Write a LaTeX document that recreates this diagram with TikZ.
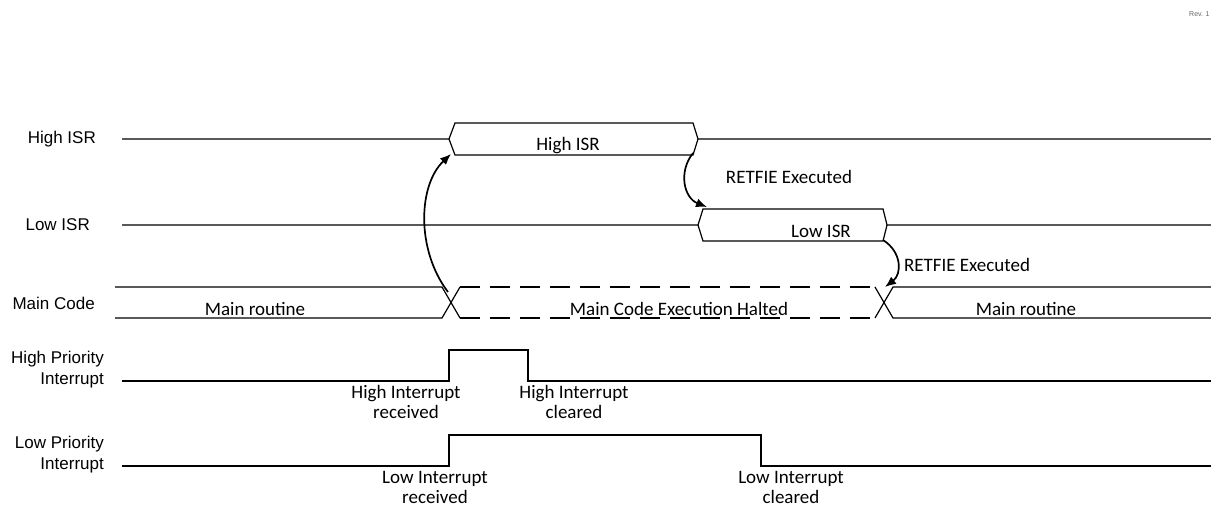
\documentclass[tikz,border=0pt]{standalone}
\usepackage{fontspec}
\setmainfont{Carlito}
\newfontfamily\lanefont{Liberation Sans}
\usetikzlibrary{arrows.meta}

\begin{document}
\begin{tikzpicture}[
      x = 1pt, y = -1pt,
      signal/.style={line width = 1.2pt, black},
      halted/.style={signal, dash pattern = on 20pt off 10pt},
      isr edge/.style={-{Latex[length = 11pt, width = 9pt]}, line width = 1.7pt},
      tag/.style={
        font = \fontsize{19}{20}\selectfont,
        align = center,
        inner sep = 0pt,
      },
      lane/.style={
        font = \lanefont\fontsize{17}{21}\selectfont,
        align = right,
        anchor = east,
        inner sep = 0pt,
      },
    ]
    \useasboundingbox (0, 0) rectangle (1211, 506);

    \node[font = \lanefont\fontsize{7}{7}\selectfont, text = black!60,
      anchor = west, inner sep = 0pt] (rev) at (1189, 14) {Rev. 1};

    % lane names
    \node[lane] (hisrname) at (96, 139) {High ISR};
    \node[lane] (lisrname) at (90, 225) {Low ISR};
    \node[lane] (mainname) at (95, 303) {Main Code};
    \node[lane] (hpriname) at (104, 370) {High Priority\\Interrupt};
    \node[lane] (lpriname) at (104, 455) {Low Priority\\Interrupt};

    % High ISR bus
    \draw[signal] (122, 139) -- (449, 139) -- (455, 123) -- (693, 123)
      -- (698, 139) -- (1211, 139);
    \draw[signal] (449, 139) -- (455, 155) -- (693, 155) -- (698, 139);
    \coordinate (hisrin) at (451, 154);
    \coordinate (hisrout) at (693, 153);
    \node[tag] (hisrtag) at (568, 146) {High ISR};

    % Low ISR bus
    \draw[signal] (122, 225) -- (698, 225) -- (703, 209) -- (883, 209)
      -- (887, 225) -- (1211, 225);
    \draw[signal] (698, 225) -- (703, 241) -- (883, 241) -- (887, 225);
    \coordinate (lisrin) at (707, 207);
    \coordinate (lisrout) at (883, 240);
    \node[tag] (lisrtag) at (821, 231) {Low ISR};

    % Main code bus
    \draw[signal] (115, 287) -- (442, 287) -- (460, 318);
    \draw[signal] (115, 318) -- (442, 318) -- (460, 287);
    \draw[halted] (460, 287) -- (875, 287);
    \draw[halted] (460, 318) -- (875, 318);
    \draw[signal] (875, 287) -- (893, 318) -- (1211, 318);
    \draw[signal] (875, 318) -- (893, 287) -- (1211, 287);
    \coordinate (mainout) at (448, 292);
    \coordinate (mainin) at (885, 287);
    \node[tag] (mainone) at (255, 309) {Main routine};
    \node[tag] (haltedtag) at (679, 309) {Main Code Execution Halted};
    \node[tag] (maintwo) at (1026, 309) {Main routine};

    % interrupt flags
    \draw[signal] (122, 381) -- (449, 381) -- (449, 350) -- (528, 350)
      -- (528, 381) -- (1211, 381);
    \draw[signal] (122, 466) -- (449, 466) -- (449, 435) -- (761, 435)
      -- (761, 466) -- (1211, 466);
    \node[tag] (hirecv) at (406, 402) {High Interrupt\\received};
    \node[tag] (hiclear) at (574, 402) {High Interrupt\\cleared};
    \node[tag] (lirecv) at (435, 487) {Low Interrupt\\received};
    \node[tag] (liclear) at (791, 487) {Low Interrupt\\cleared};

    % context switches
    \draw[isr edge] (mainout) .. controls (416, 250) and (418, 185) .. (hisrin);
    \draw[isr edge] (hisrout) .. controls (678, 172) and (684, 198) .. (lisrin);
    \draw[isr edge] (lisrout) .. controls (902, 252) and (902, 274) .. (mainin);
    \node[tag] (retone) at (789, 177) {RETFIE Executed};
    \node[tag] (rettwo) at (967, 265) {RETFIE Executed};
  \end{tikzpicture}
\end{document}
